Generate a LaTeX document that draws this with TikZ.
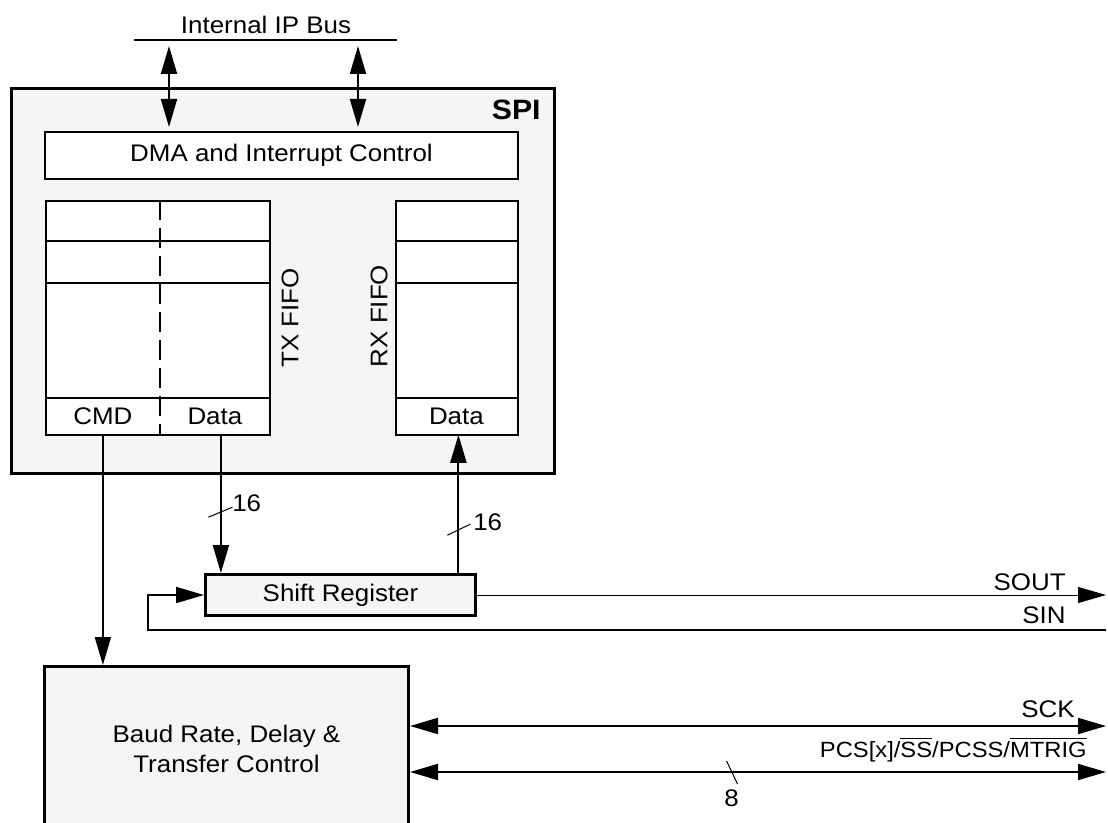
\documentclass[tikz,border=0pt]{standalone}
\usepackage{fontspec}
\setmainfont{Liberation Sans}[FakeStretch=1.08]
\usepackage{tikz}
\usetikzlibrary{arrows.meta, positioning, calc}
\definecolor{spigray}{RGB}{245, 245, 245}

\begin{document}
\begin{tikzpicture}[x=0.5pt, y=-0.5pt,
    blk/.style={draw, line width=1.5pt, fill=spigray, inner sep=0pt, anchor=north west, align=center},
    cell/.style={draw, line width=1pt, fill=white, inner sep=0pt, anchor=north west},
    lbl/.style={inner sep=0pt, anchor=north west},
    sig/.style={line width=1pt},
    arr/.style={sig, -{Triangle[length=14pt, width=8pt]}},
    darr/.style={sig, {Triangle[length=14pt, width=8pt]}-{Triangle[length=14pt, width=8pt]}},
    tick/.style={line width=0.5pt},
    every node/.style={font=\fontsize{12}{15}\selectfont}
]
\useasboundingbox (0,0) rectangle (1108,823);
\clip (0,0) rectangle (1108,823);

% Internal bus
\coordinate (busW) at (134,40);
\coordinate (busE) at (397,40);
\coordinate (busA) at (169,40);
\coordinate (busB) at (358,40);
\node (buslbl) at (266,25) {Internal IP Bus};
\draw[sig] (busW) -- (busE);

% SPI block
\node[blk, minimum width=271.5pt, minimum height=192.5pt] (spi) at (10,87) {};
\node[font=\fontsize{14}{16}\selectfont\bfseries, inner sep=0pt, anchor=east] (spilbl) at (541,110) {SPI};
\node[cell, minimum width=236.5pt, minimum height=23.5pt] (dma) at (44,131) {DMA and Interrupt Control};

% TX FIFO and RX FIFO
\node[cell, minimum width=112pt, minimum height=117pt] (txf) at (45,200) {};
\node[cell, minimum width=61pt, minimum height=117pt] (rxf) at (395,200) {};
\foreach \yy in {241,283,398} {
  \draw[sig] (45,\yy) -- (269,\yy);
  \draw[sig] (395,\yy) -- (517,\yy);
}
\draw[sig, dash pattern=on 10pt off 4pt] (160,200) -- (160,434);
\node[lbl, minimum width=57.5pt, minimum height=18pt] (txcmd) at (45,398) {CMD};
\node[lbl, minimum width=54.5pt, minimum height=18pt] (txdata) at (160,398) {Data};
\node[lbl, minimum width=61pt, minimum height=18pt] (rxdata) at (395,398) {Data};
\node[rotate=90] (txlbl) at (290,318) {TX FIFO};
\node[rotate=90] (rxlbl) at (379,316) {RX FIFO};

% Shift register and control
\node[blk, minimum width=135pt, minimum height=20.5pt] (sr) at (204,573) {Shift Register};
\node[blk, minimum width=182pt, minimum height=82.5pt] (baud) at (43,665) {Baud Rate, Delay \&\\Transfer Control};

% external pins
\coordinate (soutE) at (1106,595);
\coordinate (sinE) at (1106,630);
\coordinate (sckE) at (1106,726);
\coordinate (pcsE) at (1106,772);

% connectors
\draw[darr, shorten <=3pt, shorten >=2pt] (busA) -- (busA |- dma.north);
\draw[darr, shorten <=3pt, shorten >=2pt] (busB) -- (busB |- dma.north);
\draw[arr] (txcmd.south) -- (txcmd.south |- baud.north);
\draw[arr] ([xshift=3pt]txdata.south) -- coordinate[pos=0.56] (tkA) ([xshift=3pt]txdata.south |- sr.north);
\draw[arr] ([xshift=1pt]rxdata.south |- sr.north) -- coordinate[pos=0.31] (tkB) ([xshift=1pt]rxdata.south);
\draw[arr, line width=0.5pt] (sr.east) -- (soutE);
\draw[arr] (sinE) -| ([xshift=-28pt]sr.west) -- (sr.west);
\draw[darr] (sckE -| baud.east) -- (sckE);
\draw[darr] (pcsE -| baud.east) -- coordinate[pos=0.462] (tkC) (pcsE);

% bus width marks
\draw[tick] ($(tkA)+(-12.5,5)$) -- ($(tkA)+(11.5,-5)$);
\node[inner sep=0pt, anchor=west] (w16a) at ($(tkA)+(11,-9)$) {16};
\draw[tick] ($(tkB)+(-11,5)$) -- ($(tkB)+(12,-6)$);
\node[inner sep=0pt, anchor=west] (w16b) at ($(tkB)+(14.5,-8)$) {16};
\draw[tick] ($(tkC)+(-5,-11)$) -- ($(tkC)+(6,12)$);
\node[inner sep=0pt, anchor=north] (w8) at ($(tkC)+(0,17)$) {8};

% pin labels
\node[inner sep=0pt, anchor=base east] (soutlbl) at (1066,590) {SOUT};
\node[inner sep=0pt, anchor=base east] (sinlbl) at (1066,623) {SIN};
\node[inner sep=0pt, anchor=base east] (scklbl) at (1075,717) {SCK};
\node[inner sep=0pt, anchor=base east, font=\fontsize{11}{13}\selectfont] (pcslbl) at (1087,757) {PCS[x]/$\overline{\mbox{SS}}$/PCSS/$\overline{\mbox{MTRIG}}$};

\end{tikzpicture}
\end{document}
